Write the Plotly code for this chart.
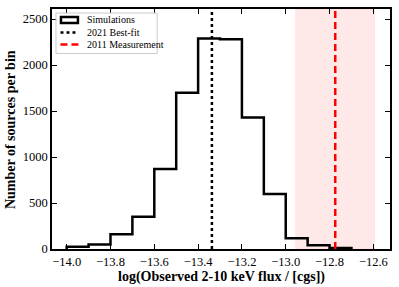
import plotly.graph_objects as go

# ---- data ----
bin_edges = [-14.0, -13.9, -13.8, -13.7, -13.6, -13.5, -13.4, -13.3, -13.2,
             -13.1, -13.0, -12.9, -12.8, -12.7]
counts = [25, 50, 160, 350, 870, 1700, 2290, 2280, 1430, 598, 116, 40, 10]
best_fit_2021 = -13.337
measurement_2011 = -12.774
measurement_band = [-12.955, -12.595]
x_ticks = [-14.0, -13.8, -13.6, -13.4, -13.2, -13.0, -12.8, -12.6]
y_ticks = [0, 500, 1000, 1500, 2000, 2500]

# step outline of the histogram
sx, sy = [bin_edges[0]], [0]
for i, c in enumerate(counts):
    sx += [bin_edges[i], bin_edges[i + 1]]
    sy += [c, c]
sx.append(bin_edges[-1])
sy.append(0)

FONT = "Liberation Serif"

fig = go.Figure()
fig.add_trace(go.Scatter(x=sx, y=sy, mode="lines",
                         line=dict(color="black", width=2.5),
                         showlegend=False, hoverinfo="skip"))

# shaded measurement band
fig.add_shape(type="rect", xref="x", yref="paper",
              x0=measurement_band[0], x1=measurement_band[1], y0=0, y1=1,
              fillcolor="rgba(255,0,0,0.09)", line=dict(color="rgba(255,0,0,0.06)", width=1),
              layer="below")
# vertical lines
fig.add_shape(type="line", xref="x", yref="paper",
              x0=best_fit_2021, x1=best_fit_2021, y0=0, y1=1,
              line=dict(color="black", width=2.5, dash="dot"))
fig.add_shape(type="line", xref="x", yref="paper",
              x0=measurement_2011, x1=measurement_2011, y0=0, y1=1,
              line=dict(color="red", width=2.5, dash="7px,4px"))

# ---- manual legend (paper coords) ----
W, H = 399, 287
L, R, T, B = 51.5, 8.5, 9, 38
pw, ph = W - L - R, H - T - B
def px(x): return (x - L) / pw
def py(y): return 1 - (y - T) / ph

fig.add_shape(type="rect", xref="paper", yref="paper",
              x0=px(55.5), x1=px(157), y0=py(13), y1=py(53.5),
              line=dict(color="#cccccc", width=1), fillcolor="rgba(255,255,255,0.8)")
fig.add_shape(type="rect", xref="paper", yref="paper",
              x0=px(60.5), x1=px(77.5), y0=py(17), y1=py(23),
              line=dict(color="black", width=2.5), fillcolor="white")
fig.add_shape(type="line", xref="paper", yref="paper",
              x0=px(60), x1=px(78), y0=py(32.5), y1=py(32.5),
              line=dict(color="black", width=2.5, dash="dot"))
fig.add_shape(type="line", xref="paper", yref="paper",
              x0=px(60), x1=px(78), y0=py(44.5), y1=py(44.5),
              line=dict(color="red", width=2.5, dash="7px,4px"))
for label, yy in [("Simulations", 20), ("2021 Best-fit", 32.5), ("2011 Measurement", 44.5)]:
    fig.add_annotation(xref="paper", yref="paper", x=px(84.5), y=py(yy),
                       text=label, showarrow=False, xanchor="left", yanchor="middle",
                       font=dict(family=FONT, size=10, color="black"))

# axis titles as annotations
fig.add_annotation(xref="paper", yref="paper", x=px(222), y=py(276.5),
                   text="<b>log(Observed 2-10 keV flux / [cgs])</b>", showarrow=False,
                   xanchor="center", yanchor="middle",
                   font=dict(family=FONT, size=14, color="black"))
fig.add_annotation(xref="paper", yref="paper", x=px(10), y=py(129.5),
                   text="<b>Number of sources per bin</b>", showarrow=False, textangle=-90,
                   xanchor="center", yanchor="middle",
                   font=dict(family=FONT, size=14, color="black"))

axis_common = dict(showline=True, linecolor="black", linewidth=1.5, mirror="ticks",
                   ticks="inside", ticklen=5, tickwidth=1.2, tickcolor="black",
                   showgrid=False, zeroline=False, automargin=False,
                   tickfont=dict(family=FONT, size=12.5, color="black"))

fig.update_layout(
    width=W, height=H,
    margin=dict(l=L, r=R, t=T, b=B),
    paper_bgcolor="white", plot_bgcolor="white",
    xaxis=dict(range=[-14.067, -12.524], tickvals=x_ticks,
               ticktext=[f"{v:.1f}".replace("-", "\u2212") for v in x_ticks],
               **axis_common),
    yaxis=dict(range=[0, 2610], tickvals=y_ticks, **axis_common),
    showlegend=False,
)

fig.write_html("out.html", config={"displayModeBar": False},
               post_script="document.body.style.margin='0';document.body.style.overflow='hidden';")
